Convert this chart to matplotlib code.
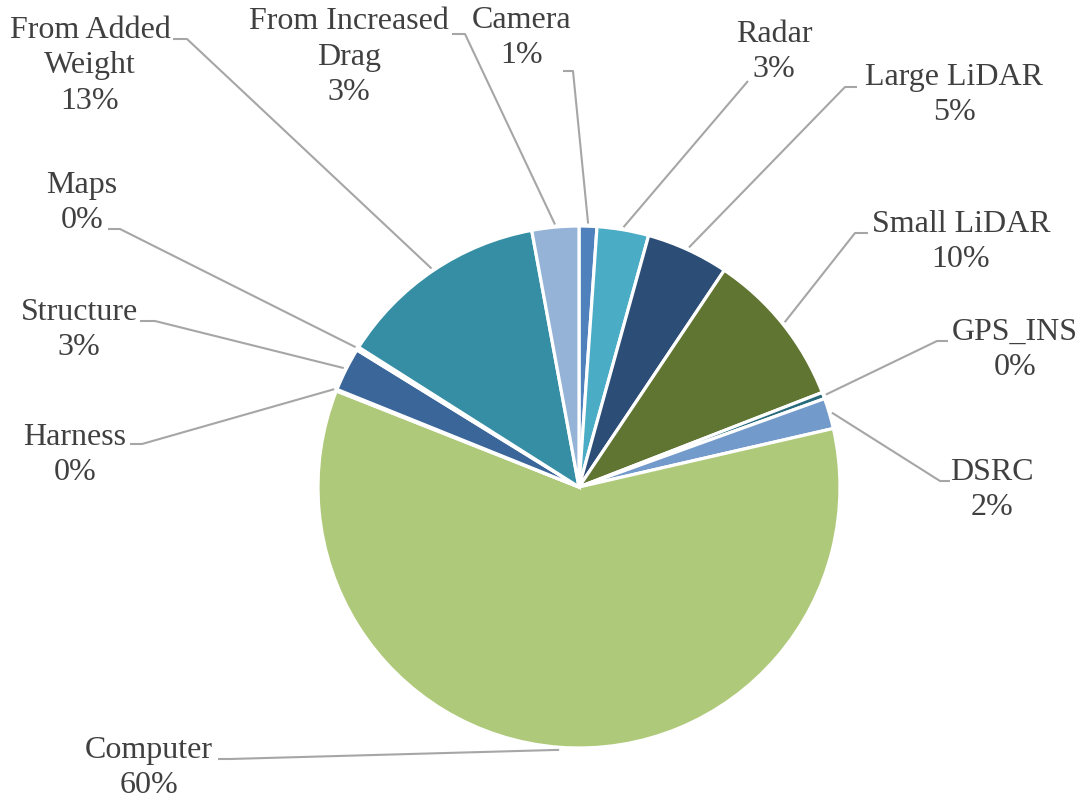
import numpy as np
import matplotlib.pyplot as plt

# slice order: clockwise from 12 o'clock
labels = ["Camera", "Radar", "Large LiDAR", "Small LiDAR", "GPS_INS", "DSRC",
          "Computer", "Harness", "Structure", "Maps", "From Added\nWeight",
          "From Increased\nDrag"]
values = [1.1, 3.2, 5.1, 9.7, 0.4, 1.9, 59.6, 0.1, 2.7, 0.2, 13.1, 2.9]
colors = ["#4F81BD", "#4BACC6", "#2C4D75", "#617532", "#276A7C", "#729ACA",
          "#AFC97A", "#7F9EC7", "#3A6699", "#4F81BD", "#368EA5", "#95B3D7"]

W, H = 1083, 803
cx, cy, R = 579, H - 488, 261

# label text centre, and leader path (label side point, elbow) in pixels from top-left
lab_pos = [(522, 38), (774, 52), (954, 95), (961, 242), (1015, 350), (992, 490),
           (149, 768), (75, 455), (79, 330), (82, 203), (90, 66), (349, 57)]
leader = [[(563, 72), (573, 72)],
          [(748, 82), (748, 82)],
          [(857, 88), (845, 88)],
          [(868, 234), (855, 234)],
          [(948, 342), (937, 342)],
          [(950, 482), (940, 482)],
          [(218, 760), (230, 760)],
          [(130, 445), (142, 445)],
          [(140, 322), (155, 322)],
          [(108, 230), (120, 230)],
          [(173, 40), (187, 40)],
          [(452, 35), (465, 35)]]

plt.rcParams['font.family'] = ['Liberation Serif', 'DejaVu Serif']

fig = plt.figure(figsize=(W / 100, H / 100), dpi=100)
ax = fig.add_axes([0, 0, 1, 1])

wedges, _ = ax.pie(values, colors=colors, startangle=90, counterclock=False,
                   center=(cx, cy), radius=R, frame=True,
                   wedgeprops=dict(edgecolor='white', linewidth=2.3))
ax.set_xlim(0, W)
ax.set_ylim(0, H)
ax.set_aspect('equal')
ax.axis('off')

total = sum(values)
for i, w in enumerate(wedges):
    pct = round(values[i] / total * 100)
    tx, ty = lab_pos[i]
    ax.text(tx, H - ty, f"{labels[i]}\n{pct}%", ha='center', va='center',
            fontsize=23, color='#404040', linespacing=1.3)
    mid = np.deg2rad((w.theta1 + w.theta2) / 2)
    ex, ey = cx + R * 1.01 * np.cos(mid), cy + R * 1.01 * np.sin(mid)
    (ax1, ay1), (ax2, ay2) = leader[i]
    ax.plot([ax1, ax2, ex], [H - ay1, H - ay2, ey], color='#A6A6A6', lw=1.5,
            solid_capstyle='butt')

fig.savefig("out.png", dpi=100)
